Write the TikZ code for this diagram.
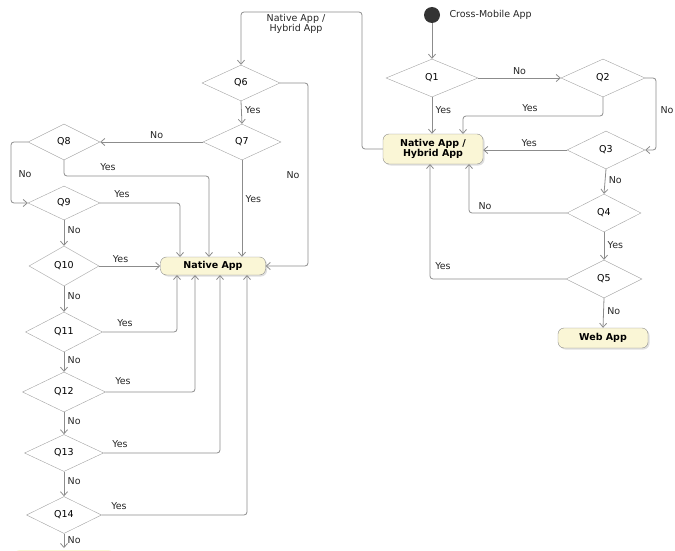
\documentclass[tikz,border=0pt]{standalone}
\usepackage{fontspec}
\setmainfont{DejaVu Sans}
\usepackage{tikz}
\usepackage{xcolor}
\usetikzlibrary{arrows.meta,positioning,shapes.geometric,shadows}

\definecolor{boxfill}{HTML}{FAF6D6}
\definecolor{linegray}{HTML}{8C8C8C}

\tikzset{
  question/.style={diamond,draw=linegray!80,fill=white,inner sep=0pt,
    minimum width=#1,minimum height=38pt,font=\fontsize{9.5}{11}\selectfont},
  question/.default=78pt,
  appbox/.style={rectangle,rounded corners=6pt,draw=linegray,fill=boxfill,
    drop shadow={opacity=0.25,shadow xshift=1.5pt,shadow yshift=-1.5pt},
    font=\bfseries\fontsize{9.5}{10.5}\selectfont,align=center,inner sep=2pt},
  flow/.style={draw=linegray,line width=0.8pt,rounded corners=3pt,
    -{Straight Barb[length=4pt,width=7pt]}},
  lbl/.style={font=\fontsize{9.5}{11}\selectfont,text=black!85}
}

\begin{document}
\begin{tikzpicture}[x=1pt,y=-1pt]
    \useasboundingbox (0,0) rectangle (675,551);
    \clip (0,0) rectangle (675,551);

    % Start
    \node[circle,fill=black!80,minimum size=16pt,inner sep=0pt] (start) at (432,15) {};
    \node[lbl,anchor=west] at (446,15) {Cross-Mobile App};

    % Right column
    \node[question=92pt] (q1) at (432,78) {Q1};
    \node[question=84pt] (q2) at (603,78) {Q2};
    \node[question=78pt] (q3) at (606,150) {Q3};
    \node[question=74pt] (q4) at (604,213) {Q4};
    \node[question=76pt] (q5) at (604,279) {Q5};
    \node[appbox,minimum width=100pt,minimum height=30pt] (hybrid) at (433,149) {Native App /\\Hybrid App};
    \node[appbox,minimum width=90pt,minimum height=20pt] (web) at (603,338) {Web App};

    % Left column
    \node[question=78pt,minimum height=36pt] (q6) at (241,83) {Q6};
    \node[question=78pt,minimum height=36pt] (q7) at (242,142) {Q7};
    \node[question=72pt,minimum height=36pt] (q8) at (64,142) {Q8};
    \node[question=72pt,minimum height=34pt] (q9) at (64,203) {Q9};
    \node[question=70pt,minimum height=40pt] (q10) at (64,266) {Q10};
    \node[question=77pt,minimum height=40pt] (q11) at (64,332) {Q11};
    \node[question=83pt,minimum height=40pt] (q12) at (64,392) {Q12};
    \node[question=79pt,minimum height=37pt] (q13) at (64,453) {Q13};
    \node[question=75pt,minimum height=37pt] (q14) at (64,515) {Q14};
    \node[appbox,minimum width=105pt,minimum height=18pt] (native) at (213,266) {Native App};
    \node[appbox,draw=none,drop shadow={opacity=0},minimum width=100pt,minimum height=20pt] (next) at (64,560) {};
    \coordinate (nextin) at (64,548);

    % Right column connectors
    \draw[flow] (start) -- (q1);
    \draw[flow] (q1.east) -- node[lbl,above] {No} (q2.west);
    \draw[flow] (q1.south) -- node[lbl,right,pos=0.35] {Yes} (q1.south |- hybrid.north);
    \draw[flow] (q2.south) |- (463,116) -- (463,134);
    \node[lbl] at (530,108) {Yes};
    \draw[flow] (q2.east) -- (656,78) |- (q3.east);
    \node[lbl,anchor=west] at (657,110) {No};
    \draw[flow] (q3.west) -- node[lbl,above,pos=0.45] {Yes} (hybrid.east |- q3.west);
    \draw[flow] (q3.south) -- node[lbl,right,pos=0.45] {No} (q4.north);
    \draw[flow] (q4.west) -| (469,164);
    \node[lbl] at (485,206) {No};
    \draw[flow] (q4.south) -- node[lbl,right,pos=0.45] {Yes} (q5.north);
    \draw[flow] (q5.west) -| (430,164);
    \node[lbl] at (443,266) {Yes};
    \draw[flow] (q5.south) -- node[lbl,right,pos=0.45] {No} (web.north);

    % Back to Q6
    \draw[flow] (hybrid.west) -- (362,149) |- (241,12) -- (q6.north);
    \node[lbl,align=center,font=\fontsize{9.5}{10.5}\selectfont] at (296,24) {Native App /\\Hybrid App};

    % Left column connectors
    \draw[flow] (q6.south) -- node[lbl,right,pos=0.4] {Yes} (q7.north);
    \draw[flow] (q6.east) -- (308,83) |- (native.east);
    \node[lbl] at (293,175) {No};
    \draw[flow] (q7.west) -- node[lbl,above,pos=0.45] {No} (q8.east);
    \draw[flow] (q7.south) -- node[lbl,right,pos=0.4] {Yes} (q7.south |- native.north);
    \draw[flow] (q8.south) |- (209,176) -- (209,257);
    \node[lbl] at (108,167) {Yes};
    \draw[flow] (q8.west) -- (11,142) |- (q9.west);
    \node[lbl] at (25,174) {No};
    \draw[flow] (q9.east) -| (180,257);
    \node[lbl] at (122,194) {Yes};
    \draw[flow] (q9.south) -- node[lbl,right,pos=0.4] {No} (q10.north);
    \draw[flow] (q10.east) -- node[lbl,above,pos=0.35] {Yes} (native.west);
    \draw[flow] (q10.south) -- node[lbl,right,pos=0.4] {No} (q11.north);
    \draw[flow] (q11.east) -| (177,275);
    \node[lbl] at (125,323) {Yes};
    \draw[flow] (q11.south) -- node[lbl,right,pos=0.4] {No} (q12.north);
    \draw[flow] (q12.east) -| (195,275);
    \node[lbl] at (123,381) {Yes};
    \draw[flow] (q12.south) -- node[lbl,right,pos=0.4] {No} (q13.north);
    \draw[flow] (q13.east) -| (220,275);
    \node[lbl] at (120,444) {Yes};
    \draw[flow] (q13.south) -- node[lbl,right,pos=0.4] {No} (q14.north);
    \draw[flow] (q14.east) -| (247,275);
    \node[lbl] at (119,506) {Yes};
    \draw[flow] (q14.south) -- node[lbl,right,pos=0.45] {No} (nextin);
\end{tikzpicture}
\end{document}
